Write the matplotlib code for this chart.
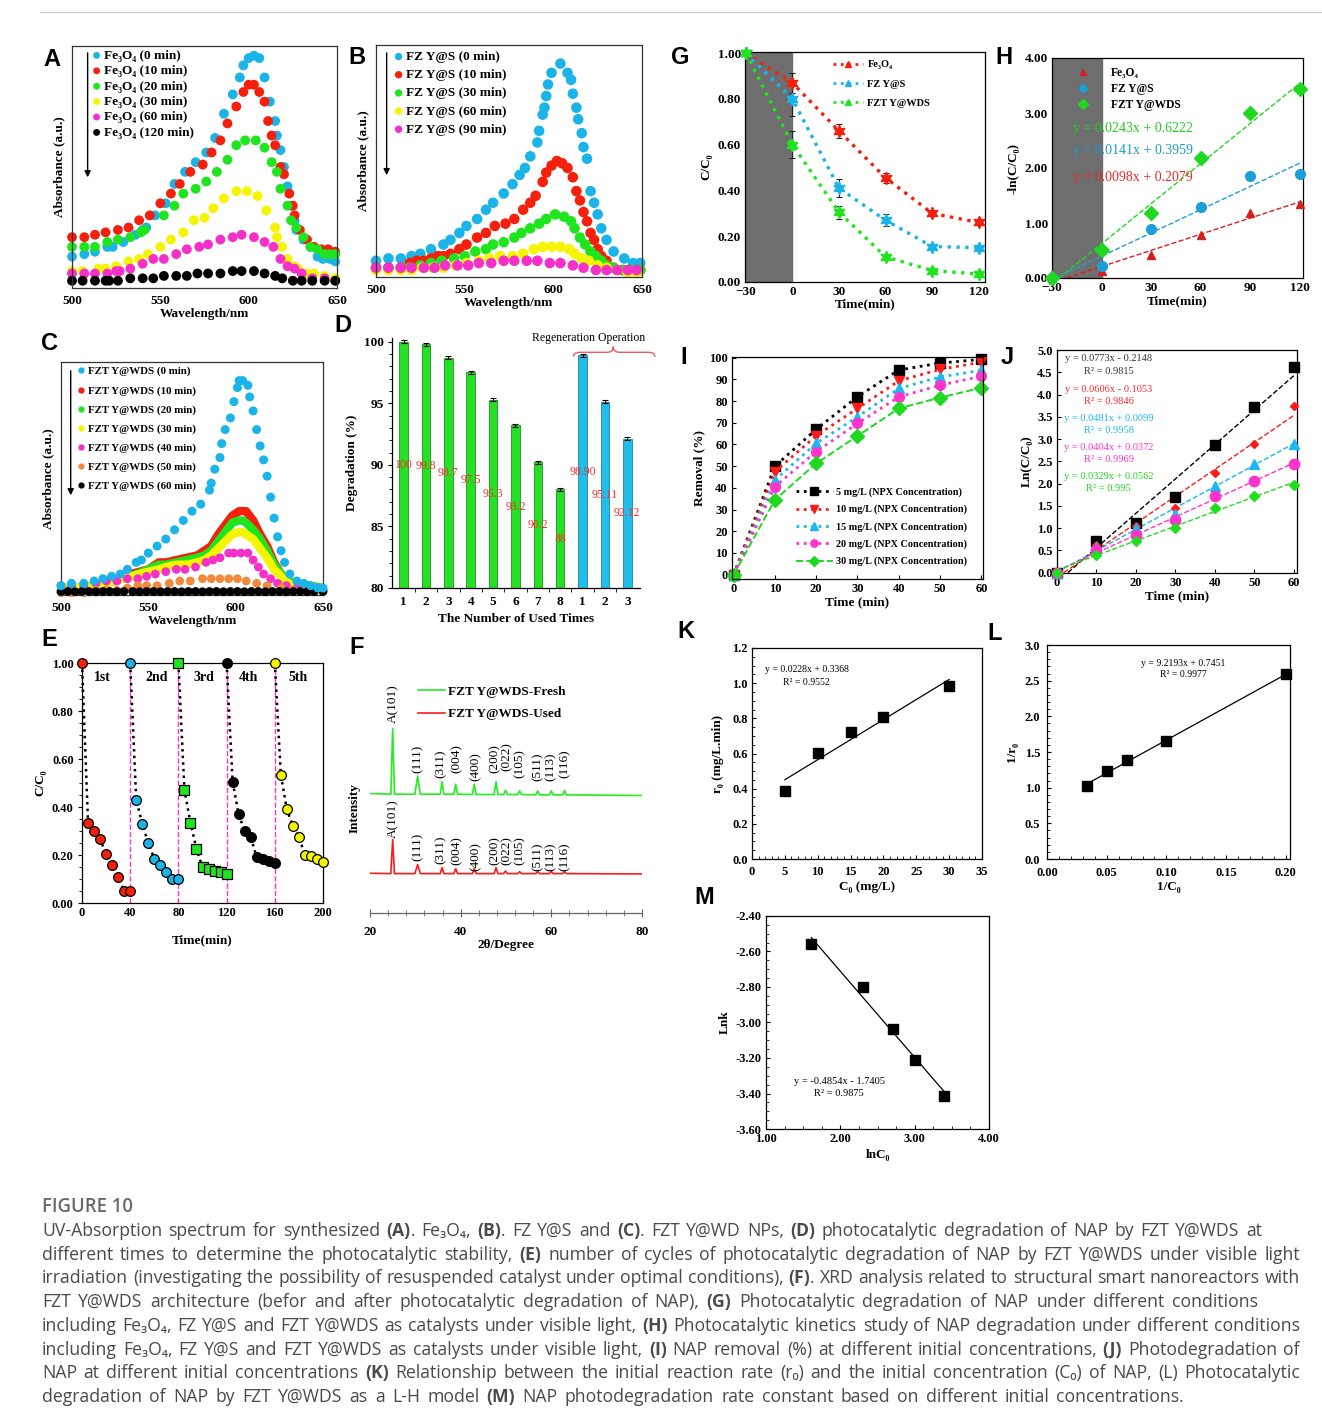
import matplotlib
matplotlib.use("Agg")
import matplotlib.pyplot as plt
import numpy as np
from matplotlib.ticker import MultipleLocator, FormatStrFormatter
from matplotlib.lines import Line2D
from matplotlib.path import Path
from matplotlib.patches import PathPatch

# ---------------- data ----------------
# A: Fe3O4 spectra (wavelength nm, absorbance a.u.)
a_labels = ['Fe₃O₄ (0 min)', 'Fe₃O₄ (10 min)', 'Fe₃O₄ (20 min)', 'Fe₃O₄ (30 min)',
            'Fe₃O₄ (60 min)', 'Fe₃O₄ (120 min)']
a_nm_0 = [500, 507, 513, 520, 523, 529, 536, 540, 542, 547, 553, 558, 564, 570, 576, 581, 586, 591, 595, 597,
          600, 603, 606, 609, 612, 615, 616, 618, 620, 622, 624, 626, 627, 631, 635, 639, 642, 646, 649]
a_abs_0 = [0.13, 0.14, 0.15, 0.17, 0.17, 0.19, 0.22, 0.24, 0.25, 0.30, 0.35, 0.43, 0.48, 0.52, 0.56, 0.62, 0.72, 0.80, 0.87, 0.92,
           0.95, 0.96, 0.95, 0.87, 0.77, 0.69, 0.63, 0.57, 0.50, 0.42, 0.34, 0.28, 0.24, 0.20, 0.17, 0.13, 0.12, 0.12, 0.11]
a_nm_10 = [500, 507, 513, 519, 526, 532, 538, 544, 550, 556, 561, 567, 574, 579, 584, 588, 593, 597, 600, 603,
           606, 609, 611, 613, 615, 618, 620, 623, 625, 626, 629, 633, 637, 641, 645, 649]
a_abs_10 = [0.21, 0.21, 0.22, 0.23, 0.24, 0.25, 0.28, 0.30, 0.35, 0.39, 0.43, 0.48, 0.51, 0.56, 0.61, 0.68, 0.75, 0.81, 0.84, 0.84,
            0.81, 0.77, 0.69, 0.63, 0.59, 0.50, 0.47, 0.39, 0.34, 0.30, 0.24, 0.20, 0.17, 0.16, 0.16, 0.15]
a_nm_20 = [500, 507, 513, 520, 526, 533, 539, 541, 552, 558, 563, 570, 576, 582, 588, 593, 598, 604, 609, 613,
           616, 618, 622, 624, 627, 631, 635, 639, 643, 646, 649]
a_abs_20 = [0.17, 0.17, 0.17, 0.19, 0.20, 0.21, 0.23, 0.24, 0.30, 0.34, 0.39, 0.41, 0.44, 0.48, 0.53, 0.59, 0.61, 0.61, 0.58, 0.52,
            0.48, 0.41, 0.34, 0.28, 0.25, 0.21, 0.17, 0.16, 0.14, 0.14, 0.14]
a_nm_30 = [500, 506, 515, 519, 525, 532, 538, 543, 550, 556, 563, 569, 575, 580, 586, 593, 599, 605, 610, 615,
           616, 619, 622, 626, 628, 633, 637, 643, 649]
a_abs_30 = [0.07, 0.07, 0.08, 0.08, 0.09, 0.11, 0.12, 0.14, 0.17, 0.20, 0.23, 0.28, 0.29, 0.33, 0.37, 0.40, 0.40, 0.38, 0.32, 0.25,
            0.21, 0.17, 0.12, 0.09, 0.08, 0.06, 0.06, 0.05, 0.04]
a_nm_60 = [500, 507, 513, 520, 525, 527, 533, 540, 546, 552, 559, 565, 572, 577, 584, 591, 596, 603, 609, 614,
           618, 622, 626, 630, 636, 643, 649]
a_abs_60 = [0.06, 0.06, 0.06, 0.06, 0.07, 0.07, 0.08, 0.10, 0.12, 0.12, 0.14, 0.16, 0.17, 0.18, 0.20, 0.21, 0.22, 0.21, 0.19, 0.17,
            0.12, 0.09, 0.08, 0.06, 0.04, 0.04, 0.03]
a_nm_120 = [500, 506, 513, 519, 521, 526, 533, 540, 546, 552, 559, 565, 571, 577, 584, 591, 596, 603, 609, 615,
            619, 625, 630, 636, 643, 649]
a_abs_120 = [0.03, 0.03, 0.03, 0.03, 0.03, 0.03, 0.04, 0.04, 0.04, 0.05, 0.05, 0.05, 0.06, 0.06, 0.06, 0.07, 0.07, 0.07, 0.06, 0.05,
             0.04, 0.03, 0.03, 0.03, 0.03, 0.03]

# B: FZ Y@S spectra
b_labels = ['FZ Y@S (0 min)', 'FZ Y@S (10 min)', 'FZ Y@S (30 min)', 'FZ Y@S (60 min)', 'FZ Y@S (90 min)']
b_nm_0 = [500, 507, 514, 520, 525, 531, 538, 542, 547, 551, 557, 562, 566, 572, 577, 581, 584, 587, 591, 592,
          594, 595, 596, 597, 599, 604, 608, 610, 611, 613, 614, 616, 617, 619, 621, 623, 625, 627, 630, 634,
          640, 645, 649]
b_abs_0 = [0.07, 0.08, 0.08, 0.09, 0.10, 0.12, 0.14, 0.16, 0.19, 0.22, 0.25, 0.29, 0.32, 0.36, 0.40, 0.44, 0.47, 0.52, 0.58, 0.63,
           0.70, 0.73, 0.78, 0.83, 0.88, 0.92, 0.88, 0.85, 0.79, 0.73, 0.68, 0.62, 0.56, 0.51, 0.37, 0.32, 0.27, 0.21, 0.16, 0.11,
           0.08, 0.06, 0.06]
b_nm_10 = [500, 507, 514, 519, 523, 527, 531, 535, 538, 542, 547, 551, 557, 562, 567, 573, 578, 583, 587, 590,
           594, 596, 599, 602, 605, 608, 611, 613, 615, 617, 619, 621, 623, 625, 627, 630, 634, 639, 643, 649]
b_abs_10 = [0.04, 0.04, 0.04, 0.06, 0.07, 0.07, 0.08, 0.09, 0.09, 0.10, 0.12, 0.14, 0.17, 0.19, 0.22, 0.23, 0.25, 0.29, 0.32, 0.35,
            0.41, 0.45, 0.48, 0.50, 0.49, 0.47, 0.43, 0.37, 0.33, 0.28, 0.24, 0.19, 0.16, 0.12, 0.09, 0.07, 0.04, 0.03, 0.03, 0.03]
b_nm_30 = [500, 507, 514, 519, 525, 531, 537, 544, 550, 556, 562, 566, 572, 578, 582, 587, 592, 596, 601, 606,
           610, 612, 615, 618, 621, 624, 627, 630, 634, 640, 645, 649]
b_abs_30 = [0.04, 0.04, 0.04, 0.04, 0.05, 0.06, 0.07, 0.08, 0.09, 0.11, 0.12, 0.14, 0.15, 0.17, 0.19, 0.21, 0.23, 0.25, 0.27, 0.26,
            0.24, 0.21, 0.17, 0.14, 0.11, 0.09, 0.07, 0.05, 0.04, 0.03, 0.03, 0.03]
b_nm_60 = [500, 507, 514, 520, 526, 532, 538, 545, 551, 558, 564, 570, 577, 583, 589, 594, 599, 604, 609, 612,
           616, 620, 625, 630, 636, 642, 647]
b_abs_60 = [0.03, 0.03, 0.03, 0.03, 0.04, 0.04, 0.04, 0.05, 0.06, 0.07, 0.08, 0.09, 0.09, 0.10, 0.12, 0.13, 0.13, 0.13, 0.12, 0.10,
            0.08, 0.07, 0.05, 0.04, 0.03, 0.02, 0.02]
b_nm_90 = [500, 507, 514, 520, 527, 533, 539, 546, 552, 558, 565, 572, 578, 585, 591, 598, 604, 611, 617, 624,
           630, 636, 642, 647]
b_abs_90 = [0.04, 0.04, 0.04, 0.04, 0.04, 0.04, 0.05, 0.05, 0.05, 0.06, 0.06, 0.07, 0.07, 0.07, 0.07, 0.06, 0.06, 0.05, 0.04, 0.03,
            0.03, 0.03, 0.03, 0.03]

# C: FZT Y@WDS spectra
c_labels = ['FZT Y@WDS (0 min)', 'FZT Y@WDS (10 min)', 'FZT Y@WDS (20 min)', 'FZT Y@WDS (30 min)',
            'FZT Y@WDS (40 min)', 'FZT Y@WDS (50 min)', 'FZT Y@WDS (60 min)']
c_nm_0 = [500, 506, 513, 519, 524, 529, 534, 538, 543, 546, 550, 555, 560, 565, 570, 575, 580, 585, 586, 588,
          591, 592, 594, 597, 599, 601, 602, 604, 607, 608, 610, 612, 614, 616, 618, 620, 622, 624, 626, 628,
          631, 635, 639, 643, 647, 650]
c_abs_0 = [0.04, 0.05, 0.05, 0.06, 0.07, 0.08, 0.09, 0.11, 0.14, 0.15, 0.18, 0.21, 0.24, 0.28, 0.32, 0.36, 0.39, 0.45, 0.48, 0.54,
           0.59, 0.65, 0.71, 0.76, 0.83, 0.89, 0.92, 0.92, 0.90, 0.85, 0.79, 0.71, 0.64, 0.58, 0.51, 0.42, 0.33, 0.25, 0.19, 0.14,
           0.09, 0.06, 0.05, 0.04, 0.03, 0.03]
c_nm_band = [500, 510, 520, 530, 540, 550, 556, 560, 566, 572, 578, 582, 586, 590, 594, 598, 602, 604, 606, 610,
             614, 618, 622, 626, 630, 636, 642, 650]
c_abs_10 = [0.03, 0.03, 0.04, 0.06, 0.09, 0.11, 0.14, 0.14, 0.15, 0.16, 0.17, 0.19, 0.21, 0.26, 0.30, 0.34, 0.36, 0.36, 0.36, 0.32,
            0.26, 0.21, 0.14, 0.09, 0.06, 0.04, 0.04, 0.03]
c_abs_20 = [0.03, 0.03, 0.04, 0.06, 0.08, 0.11, 0.13, 0.13, 0.14, 0.15, 0.16, 0.17, 0.19, 0.23, 0.27, 0.31, 0.32, 0.32, 0.31, 0.28,
            0.24, 0.19, 0.13, 0.09, 0.06, 0.04, 0.04, 0.03]
c_abs_30 = [0.03, 0.03, 0.04, 0.06, 0.08, 0.10, 0.11, 0.12, 0.13, 0.13, 0.14, 0.15, 0.17, 0.20, 0.23, 0.26, 0.27, 0.27, 0.26, 0.24,
            0.20, 0.16, 0.11, 0.08, 0.05, 0.04, 0.03, 0.03]
c_nm_40 = [500, 506, 513, 520, 526, 532, 538, 544, 549, 554, 560, 566, 571, 577, 583, 587, 591, 596, 599, 603,
           607, 610, 613, 616, 620, 624, 629, 635, 643, 650]
c_abs_40 = [0.04, 0.04, 0.04, 0.05, 0.06, 0.06, 0.07, 0.07, 0.08, 0.09, 0.10, 0.11, 0.11, 0.12, 0.14, 0.15, 0.16, 0.18, 0.18, 0.18,
            0.18, 0.15, 0.12, 0.09, 0.07, 0.05, 0.04, 0.03, 0.02, 0.02]
c_nm_50 = [500, 506, 513, 520, 526, 532, 538, 544, 549, 555, 562, 568, 574, 581, 586, 591, 596, 601, 606, 612,
           618, 626, 633, 641, 650]
c_abs_50 = [0.01, 0.01, 0.01, 0.02, 0.02, 0.02, 0.03, 0.04, 0.04, 0.04, 0.05, 0.06, 0.06, 0.07, 0.07, 0.07, 0.07, 0.07, 0.06, 0.05,
            0.04, 0.03, 0.02, 0.02, 0.02]
c_nm_60 = [500, 504, 508, 512, 516, 520, 524, 528, 532, 536, 541, 545, 549, 553, 557, 561, 565, 569, 573, 577,
           581, 585, 589, 593, 597, 601, 605, 609, 613, 617, 621, 625, 629, 633, 637, 641, 645, 650]
c_abs_60 = [0.015, 0.015, 0.014, 0.015, 0.015, 0.014, 0.015, 0.015, 0.014, 0.015, 0.015, 0.014, 0.015, 0.015, 0.014, 0.015, 0.015, 0.014, 0.015, 0.015,
            0.014, 0.015, 0.015, 0.014, 0.015, 0.015, 0.014, 0.015, 0.015, 0.014, 0.015, 0.015, 0.014, 0.015, 0.015, 0.014, 0.015, 0.015]

# D: degradation over reuse cycles
d_runs = ['1', '2', '3', '4', '5', '6', '7', '8', '1', '2', '3']
d_green = [100, 99.8, 98.7, 97.5, 95.3, 93.2, 90.2, 88]
d_blue = [98.90, 95.11, 92.12]
d_green_txt = ['100', '99.8', '98.7', '97.5', '95.3', '93.2', '90.2', '88']
d_blue_txt = ['98.90', '95.11', '92.12']
d_err = [0.1, 0.12, 0.12, 0.12, 0.12, 0.12, 0.12, 0.12, 0.12, 0.12, 0.12]

# E: five reuse cycles
e_t1 = [0, 5, 10, 15, 20, 25, 30, 35, 40]
e_c1 = [1.0, 0.335, 0.30, 0.265, 0.205, 0.16, 0.11, 0.05, 0.05]
e_t2 = [40, 45, 50, 55, 60, 65, 70, 75, 80]
e_c2 = [1.0, 0.43, 0.33, 0.25, 0.185, 0.16, 0.13, 0.10, 0.10]
e_t3 = [80, 85, 90, 95, 100, 105, 110, 115, 120]
e_c3 = [1.0, 0.47, 0.335, 0.225, 0.15, 0.14, 0.135, 0.13, 0.12]
e_t4 = [120, 125, 130, 135, 140, 145, 150, 155, 160]
e_c4 = [1.0, 0.505, 0.37, 0.30, 0.275, 0.19, 0.185, 0.175, 0.165]
e_t5 = [160, 165, 170, 175, 180, 185, 190, 195, 200]
e_c5 = [1.0, 0.535, 0.39, 0.32, 0.275, 0.20, 0.195, 0.185, 0.17]
e_breaks = [40, 80, 120, 160]
e_names = ['1st', '2nd', '3rd', '4th', '5th']
e_name_x = [17, 62, 101, 138, 179]

# F: XRD, fresh and used
xrd_2t = [20.0, 24.6, 25.0, 25.4, 29.9, 30.5, 31.1, 35.5, 35.9, 36.3, 38.5, 38.9, 39.3, 42.6, 43.0, 43.4,
          47.4, 47.8, 48.2, 49.5, 49.9, 50.3, 52.6, 53.0, 53.4, 56.6, 57.0, 57.4, 59.6, 60.0, 60.4,
          62.5, 62.9, 63.3, 80.0]
xrd_fresh = [358, 356, 553, 356, 356, 410, 356, 356, 393, 356, 356, 386, 356, 355, 386, 355,
             355, 393, 355, 355, 368, 355, 355, 366, 355, 354, 366, 354, 354, 366, 354,
             354, 367, 354, 352]
xrd_used = [119, 118, 220, 118, 118, 145, 118, 118, 136, 118, 118, 133, 118, 118, 133, 118,
            118, 136, 118, 118, 126, 118, 118, 124, 118, 118, 124, 118, 118, 124, 118,
            118, 124, 118, 117]
hkl = ['A(101)', '(111)', '(311)', '(004)', '(400)', '(200)', '(022)', '(105)', '(511)', '(113)', '(116)']
hkl_2t = [25.2, 30.5, 35.5, 39.1, 43.2, 47.6, 50.2, 53.1, 57.0, 59.8, 62.9]
hkl_y_fresh = [628, 463, 448, 463, 438, 463, 468, 448, 438, 438, 448]
hkl_y_used = [283, 198, 188, 188, 168, 188, 188, 188, 168, 168, 168]

# G: C/C0 vs time
g_t = [-30, 0, 30, 60, 90, 120]
g_names = ['Fe₃O₄', 'FZ Y@S', 'FZT Y@WDS']
g_fe = [1.00, 0.87, 0.66, 0.455, 0.30, 0.26]
g_fe_err = [0, 0.045, 0.03, 0.022, 0.01, 0.01]
g_fzs = [1.00, 0.80, 0.41, 0.27, 0.155, 0.15]
g_fzs_err = [0, 0.075, 0.04, 0.027, 0.01, 0.01]
g_fzt = [1.00, 0.60, 0.305, 0.11, 0.05, 0.035]
g_fzt_err = [0, 0.06, 0.028, 0.01, 0.01, 0.01]

# H: -ln(C/C0) vs time with fits
h_t = [-30, 0, 30, 60, 90, 120]
h_fe = [0.0, 0.13, 0.42, 0.78, 1.19, 1.34]
h_fzs = [0.0, 0.22, 0.89, 1.30, 1.85, 1.90]
h_fzt = [0.0, 0.51, 1.19, 2.19, 3.00, 3.43]
h_slope = [0.0098, 0.0141, 0.0243]
h_icpt = [0.2079, 0.3959, 0.6222]
h_eq = ['y = 0.0098x + 0.2079', 'y = 0.0141x + 0.3959', 'y = 0.0243x + 0.6222']
h_eq_y = [1.83, 2.31, 2.72]

# I: removal (%) vs time for initial concentrations
i_t = [0, 10, 20, 30, 40, 50, 60]
i_names = ['5 mg/L (NPX Concentration)', '10 mg/L (NPX Concentration)', '15 mg/L (NPX Concentration)',
           '20 mg/L (NPX Concentration)', '30 mg/L (NPX Concentration)']
i_5 = [0, 50, 67, 82, 94.3, 97.5, 99.2]
i_10 = [0, 47.5, 64, 76.6, 89.3, 94.6, 97.9]
i_15 = [0, 43.6, 60.5, 72.7, 85.8, 91.1, 94.2]
i_20 = [0, 40.6, 56.7, 69.7, 81.9, 87.3, 91.4]
i_30 = [0, 34.5, 51.3, 63.9, 76.6, 81.6, 86.1]

# J: ln(C0/C) vs time with fits
j_t = [0, 10, 20, 30, 40, 50, 60]
j_5 = [0, 0.70, 1.11, 1.69, 2.87, 3.73, 4.61]
j_10 = [0, 0.62, 1.05, 1.44, 2.23, 2.89, 3.75]
j_15 = [0, 0.58, 1.00, 1.32, 1.95, 2.44, 2.88]
j_20 = [0, 0.51, 0.85, 1.18, 1.71, 2.06, 2.44]
j_30 = [0, 0.40, 0.71, 1.01, 1.44, 1.71, 1.97]
j_slope = [0.0773, 0.0606, 0.0481, 0.0404, 0.0329]
j_icpt = [-0.2148, -0.1053, 0.0099, 0.0372, 0.0562]
j_eq = ['y = 0.0773x - 0.2148', 'y = 0.0606x - 0.1053', 'y = 0.0481x + 0.0099',
        'y = 0.0404x + 0.0372', 'y = 0.0329x + 0.0562']
j_r2 = ['R² = 0.9815', 'R² = 0.9846', 'R² = 0.9958', 'R² = 0.9969', 'R² = 0.995']
j_eq_y = [4.80, 4.12, 3.45, 2.81, 2.16]
j_r2_y = [4.51, 3.85, 3.20, 2.55, 1.88]

# K, L, M: kinetics
k_c0 = [5, 10, 15, 20, 30]
k_r0 = [0.385, 0.605, 0.72, 0.805, 0.985]
k_fit = (0.0228, 0.3368)
l_inv_c0 = [0.0333, 0.05, 0.0667, 0.1, 0.2]
l_inv_r0 = [1.02, 1.24, 1.39, 1.65, 2.59]
l_fit = (9.2193, 0.7451)
m_lnc0 = [1.61, 2.30, 2.71, 3.00, 3.40]
m_lnk = [-2.56, -2.80, -3.035, -3.21, -3.415]
m_fit = (-0.4854, -1.7405)

cap_title = 'FIGURE 10'
cap_lines = [
    "UV-Absorption spectrum for synthesized **(A)**. Fe₃O₄, **(B)**. FZ Y@S and **(C)**. FZT Y@WD NPs, **(D)** photocatalytic degradation of NAP by FZT Y@WDS at",
    "different times to determine the photocatalytic stability, **(E)** number of cycles of photocatalytic degradation of NAP by FZT Y@WDS under visible light",
    "irradiation (investigating the possibility of resuspended catalyst under optimal conditions), **(F)**. XRD analysis related to structural smart nanoreactors with",
    "FZT Y@WDS architecture (befor and after photocatalytic degradation of NAP), **(G)** Photocatalytic degradation of NAP under different conditions",
    "including Fe₃O₄, FZ Y@S and FZT Y@WDS as catalysts under visible light, **(H)** Photocatalytic kinetics study of NAP degradation under different conditions",
    "including Fe₃O₄, FZ Y@S and FZT Y@WDS as catalysts under visible light, **(I)** NAP removal (%) at different initial concentrations, **(J)** Photodegradation of",
    "NAP at different initial concentrations **(K)** Relationship between the initial reaction rate (r₀) and the initial concentration (C₀) of NAP, (L) Photocatalytic",
    "degradation of NAP by FZT Y@WDS as a L-H model **(M)** NAP photodegradation rate constant based on different initial concentrations.",
]
# right edge (px) where each caption line ends in the original
cap_ends = [1262, 1300, 1300, 1258, 1300, 1300, 1300, 1184]

# ---------------- style ----------------
CY = '#1ab4e8'
RD = '#f5200c'
GN = '#1fe51f'
YL = '#f5f500'
MG = '#f530c8'
OR = '#f08a3c'

W, H = 1322, 1427
plt.rcParams['font.family'] = ['Liberation Serif', 'DejaVu Serif']
plt.rcParams['font.weight'] = 'bold'
plt.rcParams['axes.labelweight'] = 'bold'
plt.rcParams['font.size'] = 9.5
plt.rcParams['axes.labelsize'] = 9.5
plt.rcParams['xtick.labelsize'] = 9.5
plt.rcParams['ytick.labelsize'] = 9.5
plt.rcParams['axes.linewidth'] = 0.9
plt.rcParams['xtick.direction'] = 'in'
plt.rcParams['ytick.direction'] = 'in'
plt.rcParams['xtick.major.size'] = 3
plt.rcParams['ytick.major.size'] = 3
plt.rcParams['xtick.minor.size'] = 2
plt.rcParams['ytick.minor.size'] = 2
plt.rcParams['xtick.major.pad'] = 3
plt.rcParams['ytick.major.pad'] = 3
plt.rcParams['legend.frameon'] = False

fig = plt.figure(figsize=(W / 100, H / 100), dpi=100)


def panel(l, t, r, b):
    return fig.add_axes([l / W, 1 - b / H, (r - l) / W, (b - t) / H])


def letter(x, y, s):
    fig.text(x / W, 1 - y / H, s, fontsize=17, family='Liberation Sans', weight='bold',
             ha='center', va='center')


def spectra_frame(ax):
    ax.set_xlim(500, 650)
    ax.set_ylim(0, 1)
    ax.set_yticks([])
    ax.set_xticks([500, 550, 600, 650])
    ax.tick_params(axis='x', length=0, pad=5)
    ax.set_xlabel('Wavelength/nm', labelpad=1)
    ax.set_ylabel('Absorbance (a.u.)', labelpad=5)
    for s in ax.spines.values():
        s.set_color('#333333')


def arrow(ax, x, y0, y1):
    ax.annotate('', xy=(x, y1), xytext=(x, y0), xycoords='axes fraction',
                arrowprops=dict(arrowstyle='-|>', color='k', lw=1, mutation_scale=9))


# top rule
fig.add_artist(Line2D([40 / W, 1], [1 - 12 / H, 1 - 12 / H], color='#cfcfcf', lw=1))

# ---------------- A ----------------
axA = panel(72, 46, 337, 288)
for nm, ab, c, lab in zip([a_nm_0, a_nm_10, a_nm_20, a_nm_30, a_nm_60, a_nm_120],
                          [a_abs_0, a_abs_10, a_abs_20, a_abs_30, a_abs_60, a_abs_120],
                          [CY, RD, GN, YL, MG, 'k'], a_labels):
    axA.scatter(nm, ab, s=50, color=c, edgecolors='none', label=lab, clip_on=False)
spectra_frame(axA)
axA.legend(loc='upper left', bbox_to_anchor=(0.073, 0.985), borderaxespad=0, borderpad=0,
           fontsize=9.5, handlelength=0.8, handletextpad=0.15, labelspacing=0.24, markerscale=0.7)
arrow(axA, 0.059, 0.983, 0.446)
letter(52, 60, 'A')

# ---------------- B ----------------
axB = panel(376, 45, 642, 277)
for nm, ab, c, lab in zip([b_nm_0, b_nm_10, b_nm_30, b_nm_60, b_nm_90],
                          [b_abs_0, b_abs_10, b_abs_30, b_abs_60, b_abs_90],
                          [CY, RD, GN, YL, MG], b_labels):
    axB.scatter(nm, ab, s=58, color=c, edgecolors='none', label=lab, clip_on=False)
spectra_frame(axB)
axB.legend(loc='upper left', bbox_to_anchor=(0.065, 0.975), borderaxespad=0, borderpad=0,
           fontsize=9.5, handlelength=0.8, handletextpad=0.15, labelspacing=0.45, markerscale=0.7)
arrow(axB, 0.04, 0.978, 0.427)
letter(357, 58, 'B')

# ---------------- C ----------------
axC = panel(61, 362, 323, 595)
for ab, c in zip([c_abs_10, c_abs_20, c_abs_30], [RD, GN, YL]):
    axC.plot(c_nm_band, ab, color=c, lw=6, solid_capstyle='round', solid_joinstyle='round', zorder=2)
axC.scatter(c_nm_40, c_abs_40, s=40, color=MG, edgecolors='none', zorder=3, clip_on=False)
axC.scatter(c_nm_50, c_abs_50, s=40, color=OR, edgecolors='none', zorder=3, clip_on=False)
axC.scatter(c_nm_60, c_abs_60, s=40, color='k', edgecolors='none', zorder=4, clip_on=False)
axC.scatter(c_nm_0, c_abs_0, s=42, color=CY, edgecolors='none', zorder=5, clip_on=False)
spectra_frame(axC)
c_handles = [Line2D([], [], ls='none', marker='o', ms=4.5, color=c, mec='none')
             for c in [CY, RD, GN, YL, MG, OR, 'k']]
axC.legend(c_handles, c_labels, loc='upper left', bbox_to_anchor=(0.06, 0.98), borderaxespad=0,
           borderpad=0, fontsize=7.8, handlelength=0.8, handletextpad=0.2, labelspacing=0.86)
arrow(axC, 0.037, 0.974, 0.416)
letter(50, 343, 'C')

# ---------------- D ----------------
axD = panel(392, 338, 640, 588)
pos = np.arange(len(d_runs))
axD.bar(pos[:8], d_green, width=0.38, color='#27df27', edgecolor='#149c14', lw=0.6, zorder=2)
axD.bar(pos[8:], d_blue, width=0.38, color='#22bde8', edgecolor='#1488b0', lw=0.6, zorder=2)
axD.errorbar(pos, d_green + d_blue, yerr=d_err, fmt='none', ecolor='k', elinewidth=0.8,
             capsize=2, capthick=0.8, zorder=3)
for x, v, s in zip(pos, d_green + d_blue, d_green_txt + d_blue_txt):
    axD.text(x, (80 + v) / 2, s, color='#ff2a2a', fontsize=8.5, weight='normal',
             ha='center', va='center', zorder=4)
axD.set_xlim(-0.52, 10.57)
axD.set_ylim(80, 100.3)
axD.set_xticks(pos, d_runs)
axD.set_xticks(pos[:-1] + 0.5, minor=True)
axD.tick_params(axis='x', which='major', length=0, pad=6)
axD.tick_params(axis='x', which='minor', direction='out', length=3)
axD.set_yticks([80, 85, 90, 95, 100])
axD.yaxis.set_minor_locator(MultipleLocator(1))
axD.tick_params(axis='y', which='both', direction='out')
axD.spines['top'].set_visible(False)
axD.spines['right'].set_visible(False)
axD.set_ylabel('Degradation (%)', labelpad=4)
axD.set_xlabel('The Number of Used Times', labelpad=3)
axD.text(8.26, 100.32, 'Regeneration Operation', fontsize=8.5, weight='normal',
         ha='center', va='center', clip_on=False)
brace = Path([(7.59, 98.78), (7.59, 99.14), (7.9, 99.14), (9.1, 99.14), (9.375, 99.14), (9.375, 99.6),
              (9.375, 99.14), (9.65, 99.14), (10.93, 99.14), (11.24, 99.14), (11.24, 98.78)],
             [Path.MOVETO, Path.CURVE3, Path.CURVE3, Path.LINETO, Path.CURVE3, Path.CURVE3,
              Path.CURVE3, Path.CURVE3, Path.LINETO, Path.CURVE3, Path.CURVE3])
axD.add_patch(PathPatch(brace, fill=False, edgecolor='#f05a5a', lw=1, clip_on=False))
letter(343, 326, 'D')

# ---------------- G ----------------
axG = panel(745, 52, 985, 282)
axG.axvspan(-30.5, 0, color='#6e6e6e', zorder=0)
for v, e, c in zip([g_fe, g_fzs, g_fzt], [g_fe_err, g_fzs_err, g_fzt_err], [RD, CY, GN]):
    axG.errorbar(g_t, v, yerr=e, color=c, ls=':', lw=2.4, marker=(6, 1, 0), ms=9,
                 ecolor='#222222', elinewidth=0.8, capsize=2, capthick=0.8, clip_on=False, zorder=3)
axG.set_xlim(-30.5, 124)
axG.set_ylim(0, 1.005)
axG.set_xticks(g_t)
axG.set_yticks([0, 0.2, 0.4, 0.6, 0.8, 1.0])
axG.yaxis.set_major_formatter(FormatStrFormatter('%.2f'))
axG.tick_params(length=0)
axG.set_ylabel('C/C₀', labelpad=4)
axG.set_xlabel('Time(min)', labelpad=0)
g_handles = [Line2D([], [], color=c, ls=':', lw=2, marker='^', ms=5) for c in [RD, CY, GN]]
axG.legend(g_handles, g_names, loc='upper left', bbox_to_anchor=(0.367, 0.965), borderaxespad=0,
           borderpad=0, fontsize=7.5, handlelength=2.9, handletextpad=0.4, labelspacing=0.95)
letter(680, 58, 'G')

# ---------------- H ----------------
axH = panel(1052, 58, 1303, 278)
axH.axvspan(-30, 0, color='#6e6e6e', zorder=0)
h_cols = ['#d42020', '#1a9fd6', '#1fd81f']
h_eq_cols = ['#e82a2a', '#1b9ad2', '#22cc22']
h_marks = ['^', 'o', 'D']
h_ms = [6, 7, 7.5]
for v, c, m, ms in zip([h_fe, h_fzs, h_fzt], h_cols, h_marks, h_ms):
    axH.plot(h_t, v, ls='none', marker=m, ms=ms, color=c, clip_on=False, zorder=3)
for m, b, c in zip(h_slope, h_icpt, h_cols):
    x0 = -b / m
    axH.plot([x0, 120], [m * x0 + b, m * 120 + b], color=c, ls='--', lw=1, zorder=2)
for s, y, c in zip(h_eq, h_eq_y, h_eq_cols):
    axH.text(-17.5, y, s, color=c, fontsize=10, weight='normal', va='center')
axH.set_xlim(-30, 122)
axH.set_ylim(0, 4.0)
axH.set_xticks(h_t)
axH.set_yticks([0, 1, 2, 3, 4])
axH.yaxis.set_major_formatter(FormatStrFormatter('%.2f'))
axH.tick_params(length=0)
axH.set_ylabel('-ln(C/C₀)', labelpad=4)
axH.set_xlabel('Time(min)', labelpad=1)
h_handles = [Line2D([], [], ls='none', marker=m, ms=5, color=c) for m, c in zip(h_marks, h_cols)]
axH.legend(h_handles, g_names, loc='upper left', bbox_to_anchor=(0.078, 0.96), borderaxespad=0,
           borderpad=0, fontsize=8.3, handlelength=2, handletextpad=1.4, labelspacing=0.34)
letter(1004, 58, 'H')

# ---------------- I ----------------
axI = panel(732, 357, 983, 579)
i_cols = ['k', '#ff1a1a', '#1ab8ee', '#ff33cc', '#1fd81f']
i_marks = ['s', 'v', '^', 'o', 'D']
i_ls = [':', ':', ':', ':', '--']
for v, c, m, ls, lab in zip([i_5, i_10, i_15, i_20, i_30], i_cols, i_marks, i_ls, i_names):
    axI.plot(i_t, v, color=c, ls=ls, lw=2 if ls == ':' else 1.4, marker=m, ms=7,
             label=lab, clip_on=False)
axI.set_xlim(-0.4, 60.4)
axI.set_ylim(-2, 100.3)
axI.set_xticks(i_t)
axI.set_yticks(np.arange(0, 101, 10))
axI.tick_params(labelsize=9)
axI.set_ylabel('Removal (%)', labelpad=3)
axI.set_xlabel('Time (min)', labelpad=1)
axI.legend(loc='upper left', bbox_to_anchor=(0.255, 0.412), borderaxespad=0, borderpad=0,
           fontsize=7.3, handlelength=3.6, handletextpad=0.35, labelspacing=0.76, markerscale=0.75)
letter(684, 357, 'I')

# ---------------- J ----------------
axJ = panel(1057, 350, 1297, 573)
j_cols = ['k', '#ff1a1a', '#1ab8ee', '#ff33cc', '#1fe01f']
j_txt_cols = ['#333333', '#ff2a2a', '#1ab8ee', '#ff33cc', '#1fd81f']
j_marks = ['s', 'D', '^', 'o', 'D']
j_ms = [7.5, 4.5, 6.5, 7.5, 5]
for v, c, m, ms in zip([j_5, j_10, j_15, j_20, j_30], j_cols, j_marks, j_ms):
    axJ.plot(j_t, v, ls='none', marker=m, ms=ms, color=c, clip_on=False, zorder=3)
for m, b, c in zip(j_slope, j_icpt, j_cols):
    x0 = max(0, -b / m)
    axJ.plot([x0, 60], [m * x0 + b, m * 60 + b], color=c, ls='--', lw=1, zorder=2)
for s, r, ye, yr, c in zip(j_eq, j_r2, j_eq_y, j_r2_y, j_txt_cols):
    axJ.text(13.1, ye, s, color=c, fontsize=7.5, weight='normal', ha='center', va='center')
    axJ.text(13.1, yr, r, color=c, fontsize=7.5, weight='normal', ha='center', va='center')
axJ.set_xlim(0, 60.8)
axJ.set_ylim(-0.01, 5.0)
axJ.set_xticks(j_t)
axJ.set_yticks(np.arange(0, 5.01, 0.5))
axJ.yaxis.set_major_formatter(FormatStrFormatter('%.1f'))
axJ.tick_params(labelsize=9)
axJ.set_ylabel('Ln(C/C₀)', labelpad=3)
axJ.set_xlabel('Time (min)', labelpad=1)
letter(1007, 357, 'J')

# ---------------- E ----------------
axE = panel(82, 663, 323, 903)
for t, c, col, m in zip([e_t1, e_t2, e_t3, e_t4, e_t5], [e_c1, e_c2, e_c3, e_c4, e_c5],
                        [RD, CY, GN, 'k', YL], ['o', 'o', 's', 'o', 'o']):
    axE.plot(t, c, ls=':', color='k', lw=1.8, marker=m, mfc=col, mec='k', mew=0.9, ms=7,
             clip_on=False, zorder=3)
axE.vlines(e_breaks, 0, 1, colors='#ff33cc', linestyles='--', lw=1, zorder=2)
for s, x in zip(e_names, e_name_x):
    axE.text(x, 0.94, s, fontsize=10, ha='center', va='center')
axE.set_xlim(0, 200)
axE.set_ylim(0, 1)
axE.set_xticks([0, 40, 80, 120, 160, 200])
axE.set_yticks([0, 0.2, 0.4, 0.6, 0.8, 1.0])
axE.yaxis.set_major_formatter(FormatStrFormatter('%.2f'))
axE.yaxis.set_minor_locator(MultipleLocator(0.05))
axE.tick_params(axis='y', which='both', direction='out')
axE.tick_params(labelsize=9)
axE.set_ylabel('C/C₀', labelpad=4)
axE.set_xlabel('Time(min)', labelpad=11)
letter(49, 640, 'E')

# ---------------- F ----------------
axF = panel(370, 680, 642, 913)
axF.plot(xrd_2t, xrd_fresh, color='#22ee22', lw=1.2, label='FZT Y@WDS-Fresh')
axF.plot(xrd_2t, xrd_used, color='#ff1a1a', lw=1.2, label='FZT Y@WDS-Used')
for s, x, yf, yu in zip(hkl, hkl_2t, hkl_y_fresh, hkl_y_used):
    axF.text(x, yf, s, rotation=90, fontsize=9.5, weight='normal', ha='center', va='center')
    axF.text(x, yu, s, rotation=90, fontsize=9.5, weight='normal', ha='center', va='center')
axF.set_xlim(20, 80)
axF.set_ylim(0, 698)
axF.set_yticks([])
axF.set_xticks([20, 40, 60, 80])
axF.xaxis.set_minor_locator(MultipleLocator(4))
axF.tick_params(axis='x', which='both', direction='inout', color='#666666')
axF.tick_params(axis='x', which='major', length=6, pad=6)
axF.tick_params(axis='x', which='minor', length=5)
for s in ['left', 'top', 'right']:
    axF.spines[s].set_visible(False)
axF.spines['bottom'].set_color('#666666')
axF.set_ylabel('Intensity', labelpad=4)
axF.yaxis.set_label_coords(-0.035, 0.45)
axF.set_xlabel('2θ/Degree', labelpad=1)
axF.legend(loc='upper left', bbox_to_anchor=(0.178, 0.975), borderaxespad=0, borderpad=0,
           fontsize=9.5, handlelength=2.0, handletextpad=0.25, labelspacing=0.75)
letter(357, 647, 'F')

# ---------------- K ----------------
axK = panel(752, 648, 982, 859)
axK.plot(k_c0, k_r0, 's', color='k', ms=6.5, clip_on=False, zorder=3)
kx = [min(k_c0), max(k_c0)]
axK.plot(kx, [k_fit[0] * x + k_fit[1] for x in kx], color='k', lw=0.9)
axK.text(8.3, 1.08, 'y = 0.0228x + 0.3368', fontsize=7, weight='normal', ha='center', va='center')
axK.text(8.3, 1.005, 'R² = 0.9552', fontsize=7, weight='normal', ha='center', va='center')
axK.set_xlim(0, 35)
axK.set_ylim(0, 1.2)
axK.set_xticks(np.arange(0, 36, 5))
axK.xaxis.set_minor_locator(MultipleLocator(1))
axK.set_yticks(np.arange(0, 1.21, 0.2))
axK.yaxis.set_minor_locator(MultipleLocator(0.05))
axK.yaxis.set_major_formatter(FormatStrFormatter('%.1f'))
axK.tick_params(labelsize=9)
axK.tick_params(axis='x', pad=5)
axK.set_ylabel('r₀ (mg/L.min)', labelpad=6)
axK.set_xlabel('C₀ (mg/L)', labelpad=2)
letter(686, 632, 'K')

# ---------------- L ----------------
axL = panel(1047, 645, 1290, 859)
axL.plot(l_inv_c0, l_inv_r0, 's', color='k', ms=6.5, clip_on=False, zorder=3)
lx = [min(l_inv_c0), max(l_inv_c0)]
axL.plot(lx, [l_fit[0] * x + l_fit[1] for x in lx], color='k', lw=0.9)
axL.text(0.114, 2.74, 'y = 9.2193x + 0.7451', fontsize=7, weight='normal', ha='center', va='center')
axL.text(0.114, 2.58, 'R² = 0.9977', fontsize=7, weight='normal', ha='center', va='center')
axL.set_xlim(0, 0.2035)
axL.set_ylim(0, 3.0)
axL.set_xticks([0, 0.05, 0.10, 0.15, 0.20])
axL.xaxis.set_minor_locator(MultipleLocator(0.01))
axL.xaxis.set_major_formatter(FormatStrFormatter('%.2f'))
axL.set_yticks(np.arange(0, 3.01, 0.5))
axL.yaxis.set_minor_locator(MultipleLocator(0.1))
axL.yaxis.set_major_formatter(FormatStrFormatter('%.1f'))
axL.tick_params(labelsize=9)
axL.tick_params(axis='x', pad=6)
axL.tick_params(axis='y', pad=5)
axL.set_ylabel('1/r₀', labelpad=5)
axL.set_xlabel('1/C₀', labelpad=1)
letter(995, 633, 'L')

# ---------------- M ----------------
axM = panel(766, 916, 989, 1129)
axM.plot(m_lnc0, m_lnk, 's', color='k', ms=6.5, clip_on=False, zorder=3)
mx = [min(m_lnc0), max(m_lnc0)]
axM.plot(mx, [m_fit[0] * x + m_fit[1] for x in mx], color='k', lw=0.9)
axM.text(1.985, -3.333, 'y = -0.4854x - 1.7405', fontsize=7.5, weight='normal', ha='center', va='center')
axM.text(1.985, -3.398, 'R² = 0.9875', fontsize=7.5, weight='normal', ha='center', va='center')
axM.set_xlim(1, 4)
axM.set_ylim(-3.6, -2.4)
axM.set_xticks([1, 2, 3, 4])
axM.xaxis.set_minor_locator(MultipleLocator(0.25))
axM.xaxis.set_major_formatter(FormatStrFormatter('%.2f'))
axM.set_yticks(np.arange(-3.6, -2.39, 0.2))
axM.yaxis.set_minor_locator(MultipleLocator(0.05))
axM.yaxis.set_major_formatter(FormatStrFormatter('%.2f'))
axM.tick_params(labelsize=9)
axM.set_ylabel('Lnk', labelpad=4)
axM.set_xlabel('lnC₀', labelpad=3)
letter(704, 897, 'M')

# ---------------- caption ----------------
renderer = fig.canvas.get_renderer()
cap_font = ['Open Sans', 'DejaVu Sans']


def text_w(s, fs, bold):
    t = fig.text(0, 0, s, fontsize=fs, family=cap_font, weight='bold' if bold else 'normal')
    w = t.get_window_extent(renderer).width
    t.remove()
    return w


base_fs = 10
widest = max(text_w(ln.replace('**', ''), base_fs, False) for ln in cap_lines)
cap_fs = base_fs * 1256 / widest
space_w = text_w('a a', cap_fs, False) - text_w('aa', cap_fs, False)

fig.text(42 / W, 1 - 1212 / H, cap_title, fontsize=cap_fs * 1.05, family=cap_font,
         weight='semibold', color='#6a6a6a', ha='left', va='baseline')
cap_y = [1236, 1260, 1283, 1307, 1331, 1355, 1378, 1402]
for line, y, x_end in zip(cap_lines, cap_y, cap_ends):
    # split into (text, bold, spaces-before, spaces-after) pieces and measure them
    pieces = []
    for k, part in enumerate(line.split('**')):
        lead = len(part) - len(part.lstrip(' '))
        trail = len(part) - len(part.rstrip(' '))
        s = part.strip(' ')
        pieces.append((s, k % 2 == 1, lead, trail, text_w(s, cap_fs, k % 2 == 1) if s else 0))
    n_space = sum(p[2] + p[3] for p in pieces) + sum(p[0].count(' ') for p in pieces)
    natural = sum(p[4] for p in pieces) + sum(p[2] + p[3] for p in pieces) * space_w
    # extra room is shared by the spaces that sit between pieces and inside them
    inner_sp = sum(p[0].count(' ') for p in pieces)
    natural += inner_sp * 0
    extra = (x_end - 42 - natural) / max(n_space, 1)
    extra = min(max(extra, -0.5), 4)
    x = 42.0
    for s, bold, lead, trail, w in pieces:
        x += lead * (space_w + extra)
        if s:
            words = s.split(' ')
            for j, wd in enumerate(words):
                fig.text(x / W, 1 - y / H, wd, fontsize=cap_fs, family=cap_font,
                         weight='bold' if bold else 'normal', color='#4a4a4a',
                         ha='left', va='baseline')
                x += text_w(wd, cap_fs, bold)
                if j < len(words) - 1:
                    x += space_w + extra
        x += trail * (space_w + extra)

fig.savefig('out.png', dpi=100)
